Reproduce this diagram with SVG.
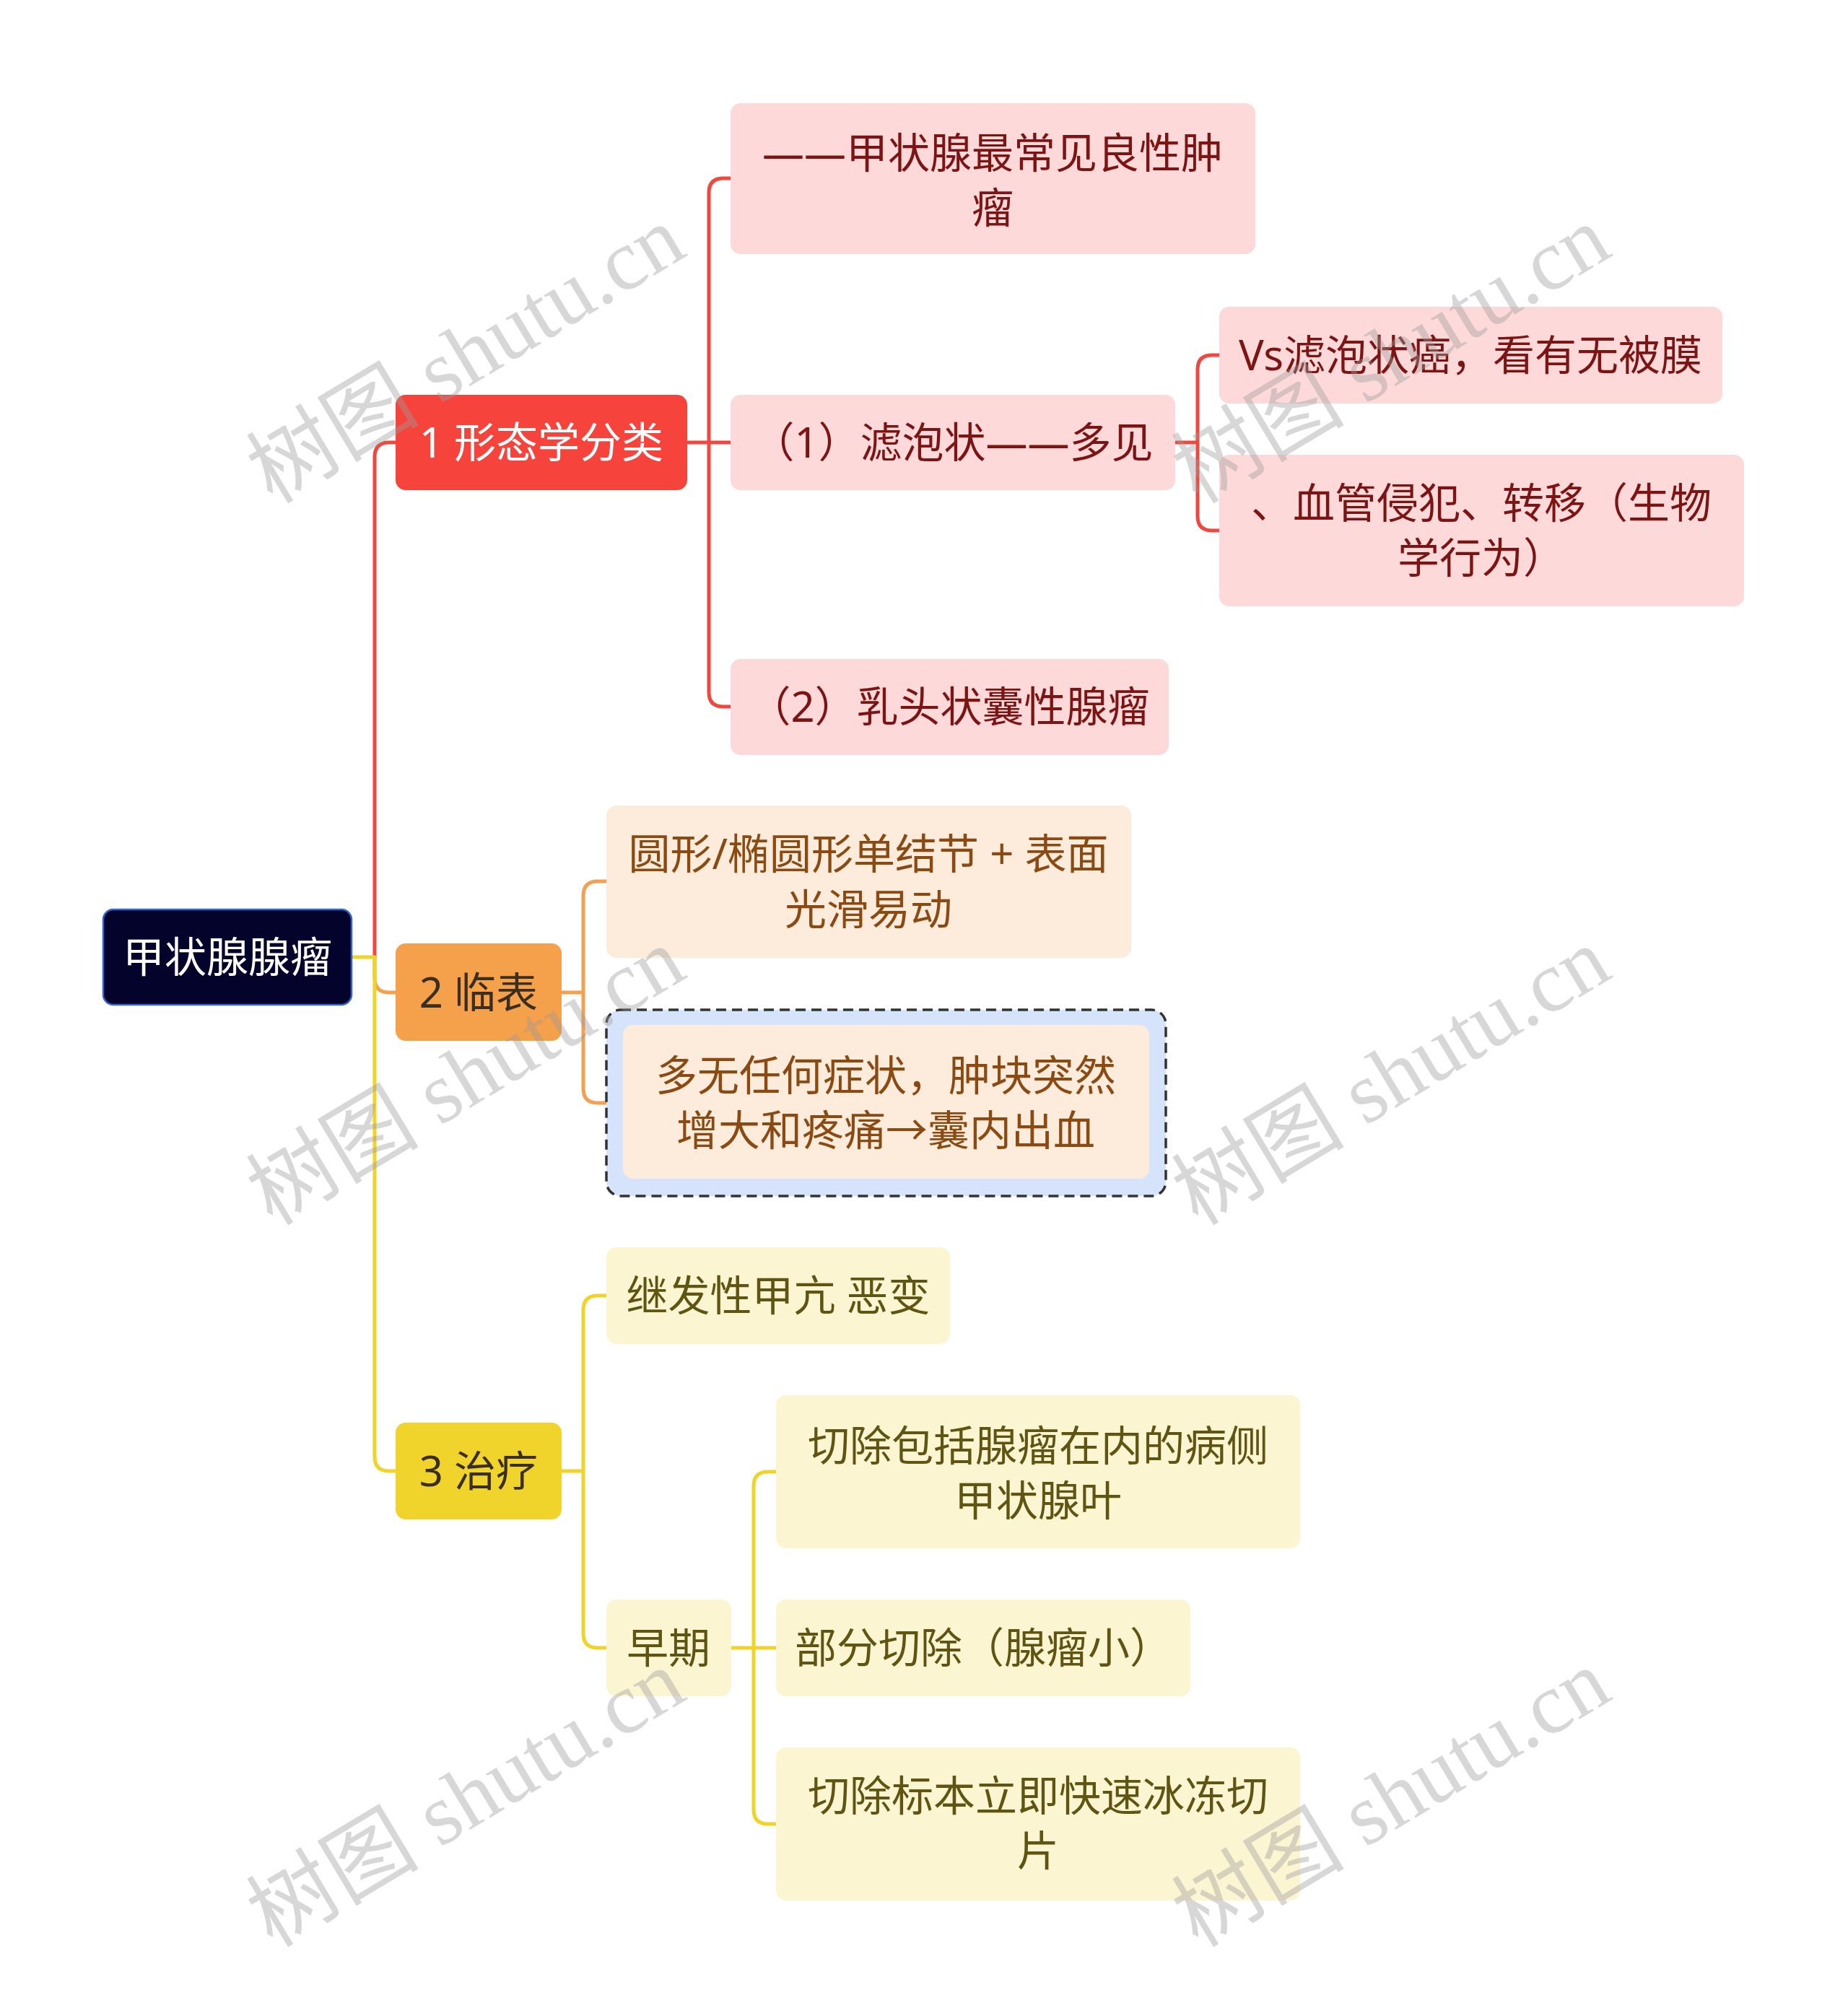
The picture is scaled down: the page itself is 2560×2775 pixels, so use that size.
<svg xmlns="http://www.w3.org/2000/svg" width="2560" height="2775" viewBox="0 0 2560 2775">
<style>
text{font-family:"Noto Sans","Noto Sans CJK SC",sans-serif;font-size:58px;text-anchor:middle}
.red{fill:#f6443c}
.pink{fill:#fdd9d9}
.pt{fill:#7d1414}
.org{fill:#f5a04b}
.peach{fill:#fdebdc}
.ot{fill:#8a4a12}
.yel{fill:#f1d42b}
.cream{fill:#fcf5d2}
.yt{fill:#5f5412}
.dk{fill:#3a2e20}
.c{fill:none;stroke-width:5;stroke-linecap:round;stroke-linejoin:round}
.wm{font-family:"Liberation Serif","Noto Sans CJK SC",serif;font-size:120px;fill:#9a9a9a;fill-opacity:0.4}
</style>
<rect width="2560" height="2775" fill="#ffffff"/>
<g id="connectors">
<path class="c" stroke="#f0473f" d="M519,1326 V633 Q519,613 539,613 H548"/>
<path class="c" stroke="#f3a050" d="M519,1326 V1355 Q519,1375 539,1375 H548"/>
<path class="c" stroke="#f0d42a" d="M487,1326 H519 V2018 Q519,2038 539,2038 H548"/>
<path class="c" stroke="#f0473f" d="M952,613 H1012 M982,613 V267 Q982,247 1002,247 H1012 M982,613 V959 Q982,979 1002,979 H1012"/>
<path class="c" stroke="#f0473f" d="M1628,613 H1659 V512 Q1659,492 1679,492 H1689 M1659,613 V715 Q1659,735 1679,735 H1689"/>
<path class="c" stroke="#f3a050" d="M778,1375 H808 V1241 Q808,1221 828,1221 H840 M808,1375 V1508 Q808,1528 828,1528 H863"/>
<path class="c" stroke="#f0d42a" d="M778,2038 H808 V1815 Q808,1795 828,1795 H840 M808,2038 V2263 Q808,2283 828,2283 H840"/>
<path class="c" stroke="#f0d42a" d="M1013,2283 H1075 M1044,2283 V2059 Q1044,2039 1064,2039 H1075 M1044,2283 V2507 Q1044,2527 1064,2527 H1075"/>
</g>
<g id="root">
<rect x="143" y="1260" width="344" height="132" rx="14" fill="#03032b" stroke="#3564d0" stroke-width="2.5"/>
<text x="315" y="1347" fill="#ffffff">甲状腺腺瘤</text>
</g>
<g id="n1">
<rect class="red" x="548" y="547" width="404" height="132" rx="14"/>
<text x="750" y="634" fill="#ffffff">1 形态学分类</text>
</g>
<g id="n1a">
<rect class="pink" x="1012" y="143" width="727" height="209" rx="14"/>
<text class="pt" x="1375" y="233">——甲状腺最常见良性肿</text>
<text class="pt" x="1375" y="309">瘤</text>
</g>
<g id="n1b">
<rect class="pink" x="1012" y="547" width="616" height="132" rx="14"/>
<text class="pt" x="1320" y="634">（1）滤泡状——多见</text>
</g>
<g id="n1b1">
<rect class="pink" x="1689" y="425" width="697" height="134" rx="14"/>
<text class="pt" x="2037" y="513">Vs滤泡状癌，看有无被膜</text>
</g>
<g id="n1b2">
<rect class="pink" x="1689" y="630" width="727" height="210" rx="14"/>
<text class="pt" x="2052" y="718">、血管侵犯、转移（生物</text>
<text class="pt" x="2052" y="794">学行为）</text>
</g>
<g id="n1c">
<rect class="pink" x="1012" y="913" width="607" height="133" rx="14"/>
<text class="pt" x="1315" y="1000">（2）乳头状囊性腺瘤</text>
</g>
<g id="n2">
<rect class="org" x="548" y="1307" width="230" height="135" rx="14"/>
<text class="dk" x="663" y="1396">2 临表</text>
</g>
<g id="n2a">
<rect class="peach" x="840" y="1116" width="727" height="211" rx="14"/>
<text class="ot" x="1203" y="1204">圆形/椭圆形单结节 + 表面</text>
<text class="ot" x="1203" y="1281">光滑易动</text>
</g>
<g id="n2b">
<rect x="840" y="1399" width="775" height="258" rx="20" fill="#d6e4fb" stroke="#333333" stroke-width="3.5" stroke-dasharray="14 8"/>
<rect class="peach" x="863" y="1420" width="729" height="213" rx="14"/>
<text class="ot" x="1227" y="1511">多无任何症状，肿块突然</text>
<text class="ot" x="1227" y="1587">增大和疼痛→囊内出血</text>
</g>
<g id="n3">
<rect class="yel" x="548" y="1971" width="230" height="134" rx="14"/>
<text class="dk" x="663" y="2059">3 治疗</text>
</g>
<g id="n3a">
<rect class="cream" x="840" y="1728" width="476" height="134" rx="14"/>
<text class="yt" x="1078" y="1816">继发性甲亢 恶变</text>
</g>
<g id="n3b">
<rect class="cream" x="840" y="2216" width="173" height="134" rx="14"/>
<text class="yt" x="926" y="2304">早期</text>
</g>
<g id="n3b1">
<rect class="cream" x="1075" y="1933" width="726" height="212" rx="14"/>
<text class="yt" x="1438" y="2024">切除包括腺瘤在内的病侧</text>
<text class="yt" x="1438" y="2100">甲状腺叶</text>
</g>
<g id="n3b2">
<rect class="cream" x="1075" y="2216" width="574" height="134" rx="14"/>
<text class="yt" x="1362" y="2304">部分切除（腺瘤小）</text>
</g>
<g id="n3b3">
<rect class="cream" x="1075" y="2421" width="726" height="212" rx="14"/>
<text class="yt" x="1438" y="2509">切除标本立即快速冰冻切</text>
<text class="yt" x="1438" y="2585">片</text>
</g>
<g id="watermarks">
<text class="wm" transform="translate(666,526) rotate(-31)">树图 shutu.cn</text>
<text class="wm" transform="translate(1948,526) rotate(-31)">树图 shutu.cn</text>
<text class="wm" transform="translate(666,1526) rotate(-31)">树图 shutu.cn</text>
<text class="wm" transform="translate(1948,1526) rotate(-31)">树图 shutu.cn</text>
<text class="wm" transform="translate(666,2526) rotate(-31)">树图 shutu.cn</text>
<text class="wm" transform="translate(1948,2526) rotate(-31)">树图 shutu.cn</text>
</g>
</svg>
